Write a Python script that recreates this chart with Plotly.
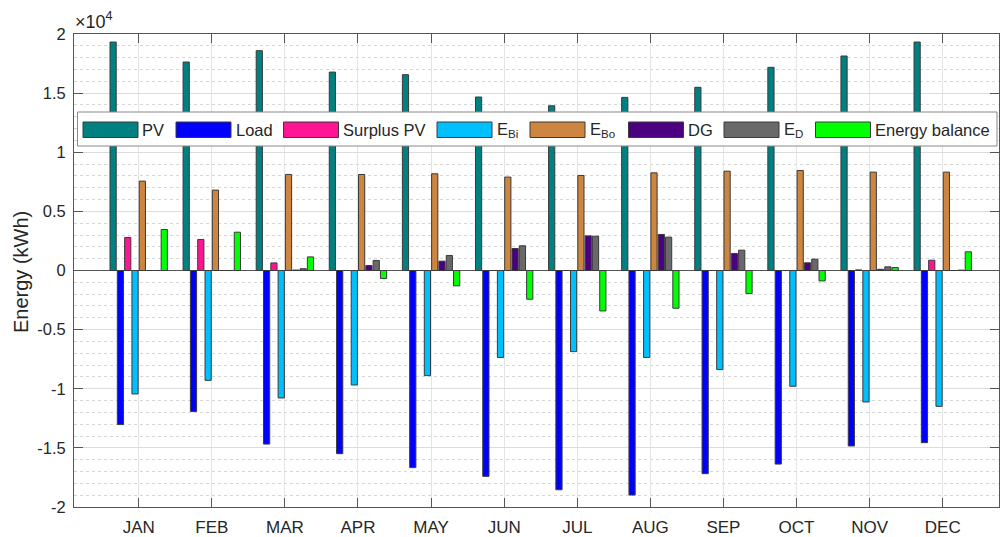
import plotly.graph_objects as go

months = ["JAN", "FEB", "MAR", "APR", "MAY", "JUN", "JUL", "AUG", "SEP", "OCT", "NOV", "DEC"]
pv = [19320, 17630, 18590, 16780, 16560, 14670, 13930, 14640, 15490, 17180, 18140, 19320]
load = [-13030, -11930, -14680, -15490, -16670, -17410, -18540, -18990, -17180, -16370, -14840, -14560]
surplus_pv = [2790, 2620, 640, 0, 0, 0, 0, 0, 0, 0, 50, 870]
e_bi = [-10440, -9290, -10780, -9680, -8890, -7360, -6860, -7360, -8380, -9790, -11120, -11490]
e_bo = [7560, 6800, 8120, 8120, 8180, 7900, 8040, 8260, 8400, 8460, 8320, 8320]
dg = [0, 0, 40, 420, 790, 1860, 2930, 3050, 1440, 650, 100, 0]
e_d = [0, 0, 150, 850, 1270, 2090, 2900, 2820, 1720, 960, 310, 30]
energy_balance = [3470, 3240, 1150, -680, -1300, -2430, -3420, -3190, -1950, -880, 250, 1580]

series_names = ["PV", "Load", "Surplus PV", "E<sub>Bi</sub>", "E<sub>Bo</sub>", "DG", "E<sub>D</sub>", "Energy balance"]
series_values = [pv, load, surplus_pv, e_bi, e_bo, dg, e_d, energy_balance]
series_colors = ["#008080", "#0000FF", "#FF1493", "#00BFFF", "#CD853F", "#4B0082", "#696969", "#00FF00"]

y_tickvals = [-20000, -15000, -10000, -5000, 0, 5000, 10000, 15000, 20000]
y_ticktext = ["-2", "-1.5", "-1", "-0.5", "0", "0.5", "1", "1.5", "2"]

W, H = 1001, 537
L, R, T, B = 74, 999, 34, 507
FONT = "Liberation Sans, Arial, sans-serif"
TXT = "#262626"

def px_x(p):
    return (p - L) / (R - L)

def px_y(p):
    return (B - p) / (B - T)

fig = go.Figure()
xs = list(range(1, 13))
for name, vals, col in zip(series_names, series_values, series_colors):
    fig.add_trace(go.Bar(x=xs, y=vals, name=name, marker=dict(color=col, line=dict(color="#3a3a3a", width=1)),
                         showlegend=False))

# custom MATLAB-like legend
shapes = [dict(type="rect", xref="paper", yref="paper", x0=px_x(77.5), x1=px_x(997), y0=px_y(146), y1=px_y(112),
               fillcolor="white", line=dict(color="#888888", width=1), layer="above")]
annotations = []
swatch_x = [83, 176, 283.5, 437, 530, 628.5, 724, 815.5]
text_x = [140, 233.5, 341, 494.5, 588, 686, 781.5, 873]
for sx, tx, name, col in zip(swatch_x, text_x, series_names, series_colors):
    shapes.append(dict(type="rect", xref="paper", yref="paper", x0=px_x(sx), x1=px_x(sx + 55),
                       y0=px_y(137.5), y1=px_y(122), fillcolor=col, line=dict(color="#3a3a3a", width=1), layer="above"))
    annotations.append(dict(text=name, xref="paper", yref="paper", x=px_x(tx), y=px_y(130), xanchor="left",
                            yanchor="middle", showarrow=False, font=dict(family=FONT, size=16.5, color=TXT)))

annotations.append(dict(text="×10<sup>4</sup>", xref="paper", yref="paper", x=px_x(73), y=px_y(21),
                        xanchor="left", yanchor="middle", showarrow=False,
                        font=dict(family=FONT, size=18, color=TXT)))
annotations.append(dict(text="Energy (kWh)", xref="paper", yref="paper", x=px_x(21), y=px_y(272),
                        xanchor="center", yanchor="middle", textangle=-90, showarrow=False,
                        font=dict(family=FONT, size=20, color=TXT)))

fig.update_layout(
    width=W, height=H,
    margin=dict(l=L, r=W - R, t=T, b=H - B, autoexpand=False),
    paper_bgcolor="white", plot_bgcolor="white",
    barmode="group", bargap=0.2, bargroupgap=0.15,
    font=dict(family=FONT, size=17, color=TXT),
    shapes=shapes, annotations=annotations,
    showlegend=False,
)
fig.update_xaxes(range=[0.115, 12.77], tickvals=xs, ticktext=months, ticks="inside", ticklen=9,
                 tickcolor="#555555", showline=True, linecolor="#555555", linewidth=1, mirror="ticks",
                 showgrid=True, gridcolor="#e3e3e3", gridwidth=1, zeroline=False, automargin=False,
                 ticklabelstandoff=5,
                 tickfont=dict(family=FONT, size=17, color=TXT))
fig.update_yaxes(range=[-20000, 20000], tickvals=y_tickvals, ticktext=y_ticktext, ticks="inside", ticklen=9,
                 tickcolor="#555555", showline=True, linecolor="#555555", linewidth=1, mirror="ticks",
                 showgrid=True, gridcolor="#dcdcdc", gridwidth=1, automargin=False,
                 ticklabelstandoff=4,
                 minor=dict(dtick=1000, showgrid=True, gridcolor="#d6d6d6", griddash="dot", ticks=""),
                 zeroline=True, zerolinecolor="#555555", zerolinewidth=1,
                 tickfont=dict(family=FONT, size=16.5, color=TXT))

fig.write_html("out.html", config={"displayModeBar": False},
               post_script="document.body.style.margin='0';document.body.style.overflow='hidden';")
